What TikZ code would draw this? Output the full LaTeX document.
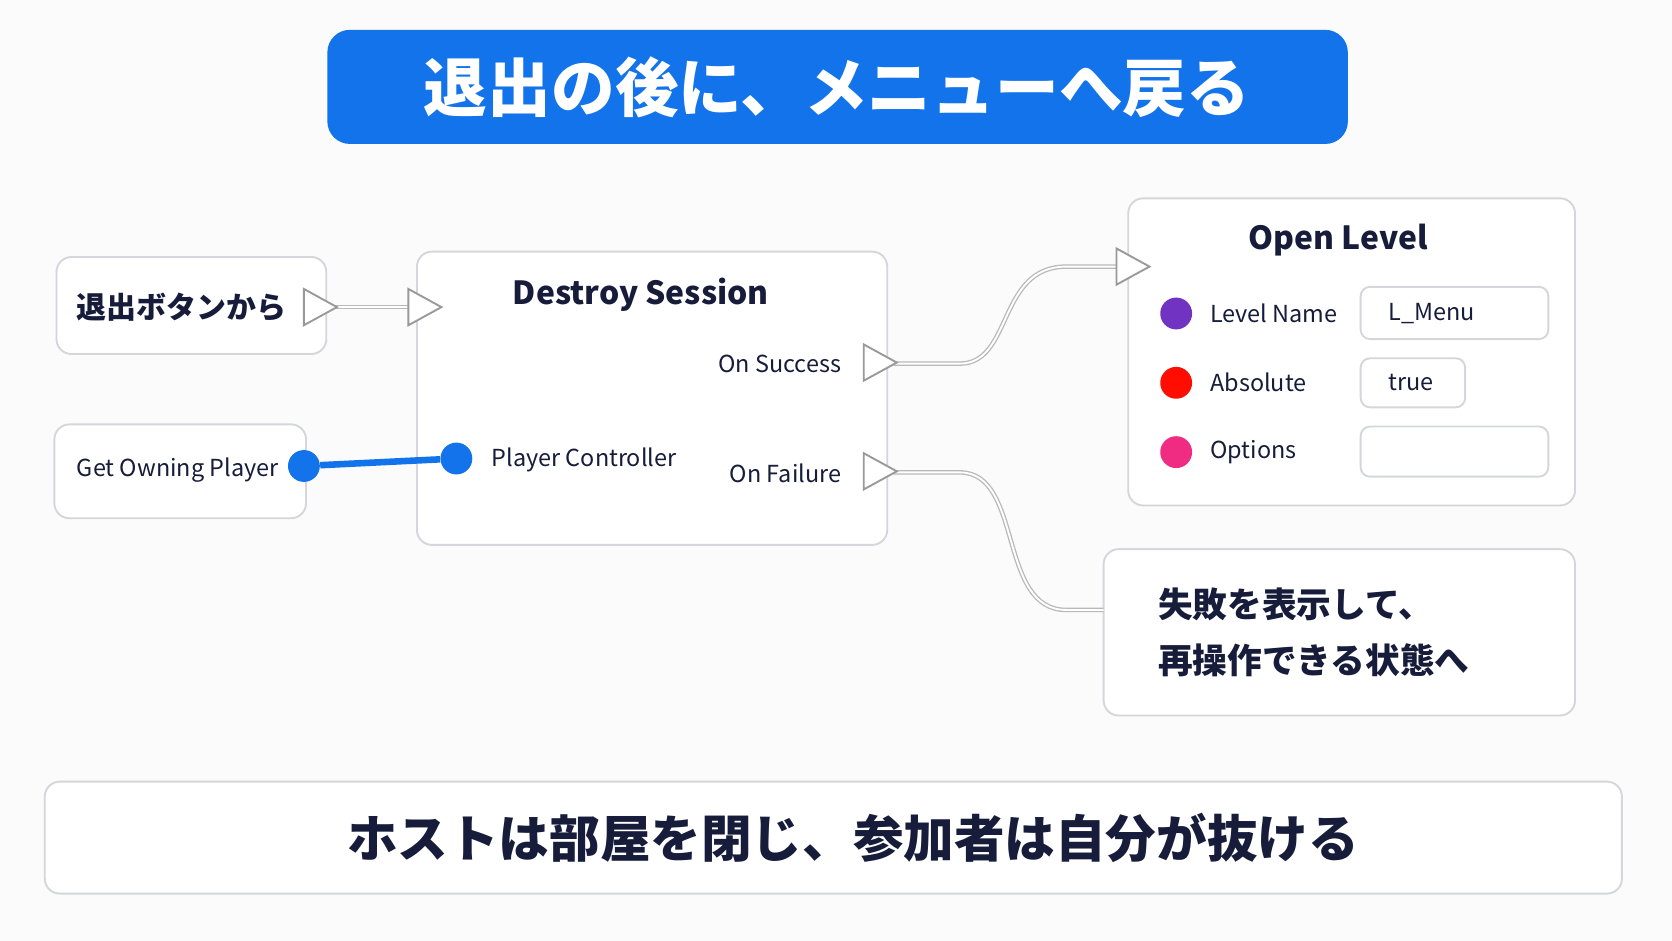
\documentclass[tikz,border=0pt]{standalone}
\usepackage{fontspec}
\setmainfont{Noto Sans CJK JP}
\usetikzlibrary{positioning}
\definecolor{titleblue}{HTML}{1273EB}
\definecolor{ink}{HTML}{161C3A}
\definecolor{pinblue}{HTML}{1273EB}
\definecolor{edge}{HTML}{D4D6DC}
\tikzset{
	px/.style={x=0.02cm,y=-0.02cm},
	card/.style={draw=edge,line width=1pt,fill=white,rounded corners=8pt},
	exec/.style={draw=gray!80,line width=1pt,fill=white},
	wire/.style={draw=gray!55,line width=2.4pt},
	wirein/.style={draw=white,line width=1pt},
	lbl/.style={text=ink,font=\fontsize{12.5}{14}\selectfont},
	dot/.style={circle,inner sep=0pt,minimum size=17pt},
}
\begin{document}
\begin{tikzpicture}[px]
		\fill[white!97!gray] (0,0) rectangle (1568,882);
		\useasboundingbox (0,0) rectangle (1568,882);

		% title
		\fill[titleblue,rounded corners=12pt] (307,28) rectangle (1264,135);
		\node[text=white,font=\bfseries\fontsize{34}{40}\selectfont] (title) at (785,82) {退出の後に、メニューへ戻る};

		% boxes
		\draw[card] (53,241) rectangle (306,332);
		\node[lbl,anchor=west,font=\bfseries\fontsize{16}{18}\selectfont] (exit) at (66,288) {退出ボタンから};
		\draw[card] (51,398) rectangle (287,486);
		\node[lbl,anchor=west] (owner) at (66,441) {Get Owning Player};
		\draw[card] (391,236) rectangle (832,511);
		\node[lbl,font=\bfseries\fontsize{17}{20}\selectfont] (destroy) at (601,276) {Destroy Session};
		\node[lbl,anchor=east] (succ) at (795,341) {On Success};
		\node[lbl,anchor=east] (fail) at (795,444) {On Failure};
		\node[lbl,anchor=west] (pc) at (455,431) {Player Controller};
		\draw[card] (1058,186) rectangle (1477,474);
		\node[lbl,font=\bfseries\fontsize{17}{20}\selectfont] (open) at (1255,225) {Open Level};
		\draw[card] (1035,515) rectangle (1477,671);
		\node[lbl,anchor=west,align=left,font=\bfseries\fontsize{18.5}{30}\selectfont] (failmsg) at (1080,593) {失敗を表示して、\\再操作できる状態へ};
		\draw[card] (42,733) rectangle (1521,838);
		\node[lbl,font=\bfseries\fontsize{27}{30}\selectfont] (note) at (800,786) {ホストは部屋を閉じ、参加者は自分が抜ける};

		% open level pins
		\node[dot,fill=violet!60!blue!80] (p1) at (1103,294) {};
		\node[dot,fill=red!90!orange] (p2) at (1103,359) {};
		\node[dot,fill=magenta!75!red!85] (p3) at (1103,424) {};
		\node[lbl,anchor=west,right=6pt of p1] (nm) {Level Name};
		\node[lbl,anchor=west,right=6pt of p2] (ab) {Absolute};
		\node[lbl,anchor=west,right=6pt of p3] (op) {Options};
		\draw[card,rounded corners=5pt] (1276,269) rectangle (1452,318);
		\node[lbl,anchor=west] (menu) at (1296,294) {L\_Menu};
		\draw[card,rounded corners=5pt] (1276,336) rectangle (1374,382);
		\node[lbl,anchor=west] (tru) at (1296,359) {true};
		\draw[card,rounded corners=5pt] (1276,400) rectangle (1452,447);

		% exec wires
		\coordinate (a0) at (312,288);
		\coordinate (a1) at (383,288);
		\coordinate (s0) at (838,341);
		\coordinate (s1) at (1047,250);
		\coordinate (f0) at (838,443);
		\coordinate (f1) at (1035,572);
		\foreach \st in {wire,wirein} {
			\draw[\st] (a0) -- (a1);
			\draw[\st] (s0) -- (900,341) .. controls (950,341) and (935,250) .. (1000,250) -- (s1);
			\draw[\st] (f0) -- (900,443) .. controls (960,443) and (935,572) .. (1000,572) -- (f1);
		}
		\foreach \x/\y in {285/288,383/288,810/340,810/442,1047/250}
			\draw[exec] (\x,\y-17) -- (\x+31,\y) -- (\x,\y+17) -- cycle;

		% data wire
		\node[dot,fill=pinblue] (d0) at (285,437) {};
		\node[dot,fill=pinblue] (d1) at (428,430) {};
		\draw[pinblue,line width=3.5pt] (d0) -- (d1);
	\end{tikzpicture}
\end{document}
